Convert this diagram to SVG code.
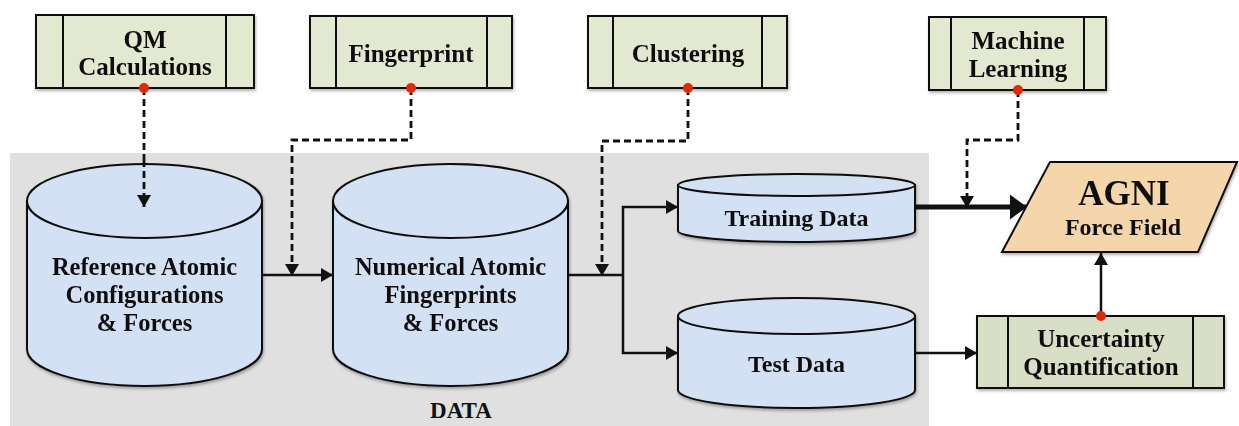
<svg xmlns="http://www.w3.org/2000/svg" width="1239" height="426" viewBox="0 0 1239 426">
<defs>
<style>
.box{fill:#e3e8d0;stroke:#111;stroke-width:2}
.uq{fill:#d9dfc6;stroke:#111;stroke-width:2}
.div{stroke:#111;stroke-width:2;fill:none}
.cyl{fill:#d4e0f3;stroke:#111;stroke-width:2}
.t{font-family:"Liberation Serif","Times New Roman",serif;font-weight:bold;fill:#111;text-anchor:middle}
.dash{fill:none;stroke:#111;stroke-width:2.8;stroke-dasharray:7 4}
.solid{fill:none;stroke:#111;stroke-width:2.5}
.dot{fill:#e0280a}
</style>
<marker id="ah" viewBox="0 0 12 14" refX="12" refY="7" markerWidth="12" markerHeight="14" markerUnits="userSpaceOnUse" orient="auto">
<path d="M0,0 L12,7 L0,14 Z" fill="#111"/>
</marker>
<marker id="ahb" viewBox="0 0 17 25" refX="17" refY="12.5" markerWidth="17" markerHeight="25" markerUnits="userSpaceOnUse" orient="auto">
<path d="M0,0 L17,12.5 L0,25 Z" fill="#111"/>
</marker>
<filter id="sh" x="-10%" y="-10%" width="120%" height="130%">
<feDropShadow dx="1" dy="2" stdDeviation="1.5" flood-color="#000" flood-opacity="0.3"/>
</filter>
</defs>

<rect id="data-bg" x="10" y="153" width="919" height="273" fill="#e0e0e0"/>

<g id="connectors">
<path class="dash" d="M144,88 V160"/>
<path class="dash" d="M411,88 V140 H292 V276" marker-end="url(#ah)"/>
<path class="dash" d="M688,88 V141 H602 V276" marker-end="url(#ah)"/>
<path class="dash" d="M1018,90 V140 H967 V208" marker-end="url(#ah)"/>
<path class="solid" d="M262,275 H333" marker-end="url(#ah)"/>
<path class="solid" d="M568,275 H623"/>
<path class="solid" d="M623,275 V207 H678" marker-end="url(#ah)"/>
<path class="solid" d="M623,275 V353 H678" marker-end="url(#ah)"/>
<path fill="none" stroke="#111" stroke-width="5" d="M915,207 H1027" marker-end="url(#ahb)"/>
<path class="solid" d="M915,353 H977" marker-end="url(#ah)"/>
<path class="solid" d="M1101,316 V253" marker-end="url(#ah)"/>
</g>

<g id="ref-cyl" filter="url(#sh)">
<path class="cyl" d="M27,201 V349 A117.5,37 0 0 0 262,349 V201 Z"/>
<ellipse class="cyl" cx="144.5" cy="201" rx="117.5" ry="37"/>
<text class="t" font-size="24.5" x="144.5" y="275">Reference Atomic</text>
<text class="t" font-size="24.5" x="144.5" y="303">Configurations</text>
<text class="t" font-size="24.5" x="144.5" y="331">&amp; Forces</text>
</g>
<path class="dash" d="M144,160 V207" marker-end="url(#ah)"/>

<g id="num-cyl" filter="url(#sh)">
<path class="cyl" d="M333,201 V349 A117.5,37 0 0 0 568,349 V201 Z"/>
<ellipse class="cyl" cx="450.5" cy="201" rx="117.5" ry="37"/>
<text class="t" font-size="24.5" x="450.5" y="275">Numerical Atomic</text>
<text class="t" font-size="24.5" x="450.5" y="303">Fingerprints</text>
<text class="t" font-size="24.5" x="450.5" y="331">&amp; Forces</text>
</g>

<g id="train-cyl" filter="url(#sh)">
<path class="cyl" d="M678,185 V231 A118.5,11 0 0 0 915,231 V185 Z"/>
<ellipse class="cyl" cx="796.5" cy="185" rx="118.5" ry="11"/>
<text class="t" font-size="24" x="796.5" y="226">Training Data</text>
</g>

<g id="test-cyl" filter="url(#sh)">
<path class="cyl" d="M678,316 V390 A118.5,18 0 0 0 915,390 V316 Z"/>
<ellipse class="cyl" cx="796.5" cy="316" rx="118.5" ry="18"/>
<text class="t" font-size="24" x="796.5" y="372">Test Data</text>
</g>

<text id="data-label" class="t" font-size="23" x="461" y="418">DATA</text>

<g id="qm" filter="url(#sh)">
<rect class="box" x="36" y="15" width="218" height="73"/>
<path class="div" d="M63,15 V88 M226,15 V88"/>
<text class="t" font-size="25" x="145" y="48">QM</text>
<text class="t" font-size="25" x="145" y="75">Calculations</text>
</g>
<circle class="dot" cx="144" cy="88" r="5"/>

<g id="fingerprint" filter="url(#sh)">
<rect class="box" x="310" y="16" width="202" height="72"/>
<path class="div" d="M336,16 V88 M487,16 V88"/>
<text class="t" font-size="25" x="411" y="62">Fingerprint</text>
</g>
<circle class="dot" cx="411" cy="88" r="5"/>

<g id="clustering" filter="url(#sh)">
<rect class="box" x="588" y="16" width="199" height="72"/>
<path class="div" d="M613,16 V88 M762,16 V88"/>
<text class="t" font-size="25" x="688" y="62">Clustering</text>
</g>
<circle class="dot" cx="688" cy="88" r="5"/>

<g id="ml" filter="url(#sh)">
<rect class="box" x="929" y="17" width="177" height="73"/>
<path class="div" d="M951,17 V90 M1084,17 V90"/>
<text class="t" font-size="25" x="1018" y="49">Machine</text>
<text class="t" font-size="25" x="1018" y="77">Learning</text>
</g>
<circle class="dot" cx="1018" cy="90" r="5"/>

<g id="agni" filter="url(#sh)">
<path d="M1050,162 H1237 L1198,252 H1002 Z" fill="#f5d6ab" stroke="#111" stroke-width="2"/>
<text class="t" font-size="35" x="1124" y="205">AGNI</text>
<text class="t" font-size="24" x="1123" y="235">Force Field</text>
</g>

<g id="uq" filter="url(#sh)">
<rect class="uq" x="977" y="316" width="247" height="72"/>
<path class="div" d="M1008,316 V388 M1193,316 V388"/>
<text class="t" font-size="25" x="1101" y="347">Uncertainty</text>
<text class="t" font-size="25" x="1101" y="375">Quantification</text>
</g>
<circle class="dot" cx="1101" cy="316" r="5"/>
</svg>
